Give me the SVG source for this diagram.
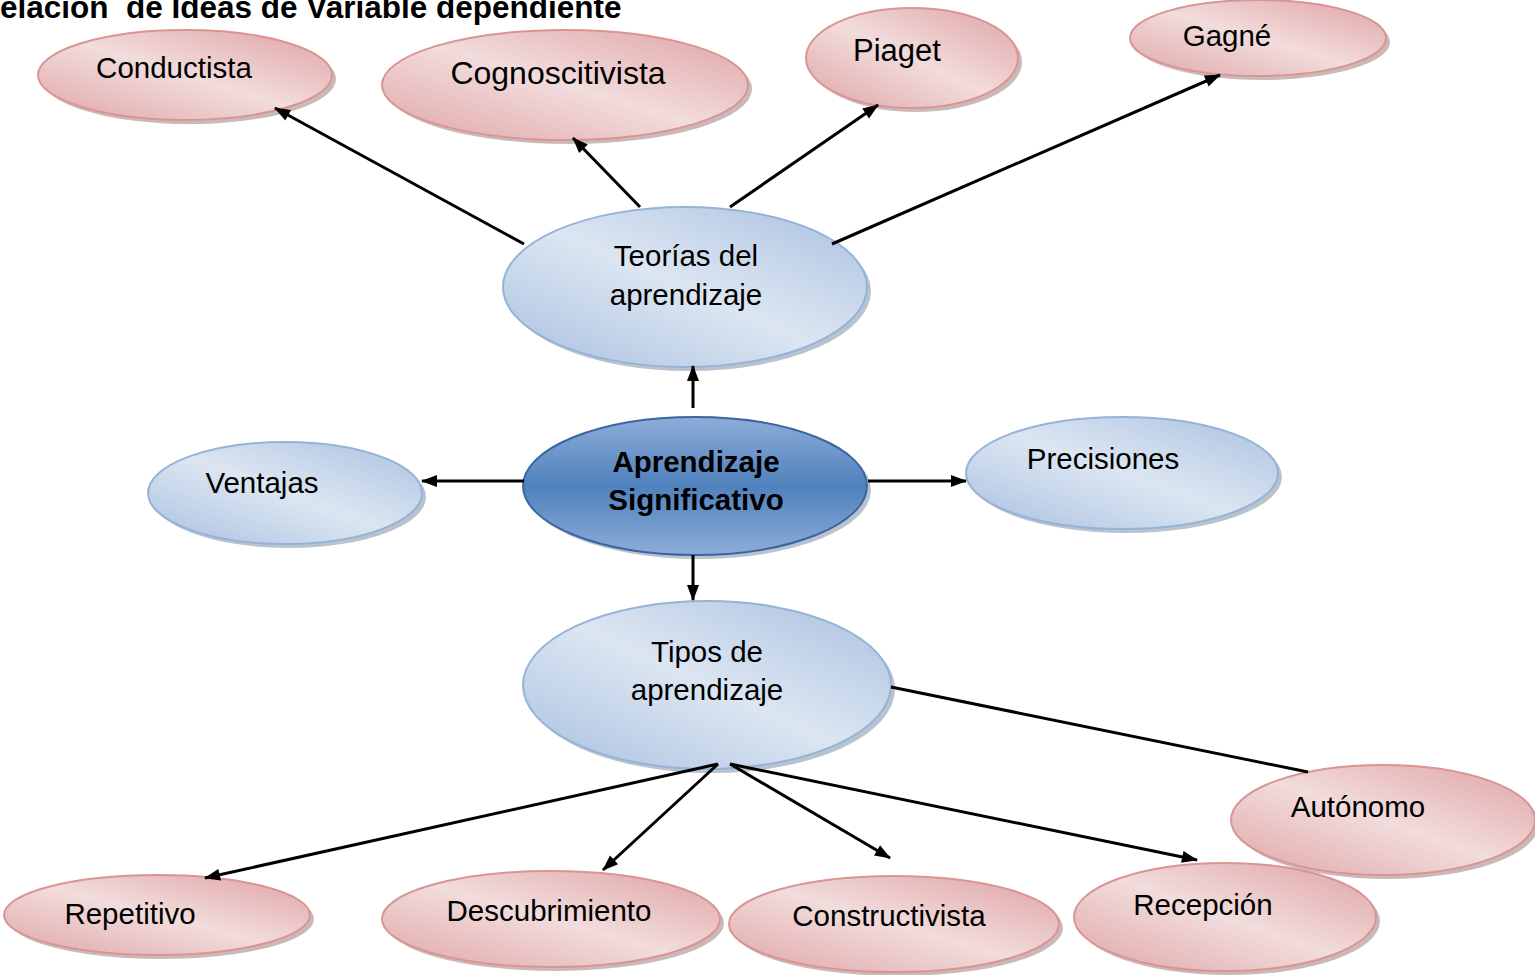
<svg xmlns="http://www.w3.org/2000/svg" width="1535" height="975" viewBox="0 0 1535 975">
<defs>
<linearGradient id="gp" x1="0" y1="1" x2="1" y2="0">
<stop offset="0" stop-color="#e0a5a6"/>
<stop offset="0.5" stop-color="#f2dcdc"/>
<stop offset="1" stop-color="#dfa1a3"/>
</linearGradient>
<linearGradient id="gb" x1="0" y1="1" x2="1" y2="0">
<stop offset="0" stop-color="#a9c0e0"/>
<stop offset="0.5" stop-color="#dce6f2"/>
<stop offset="1" stop-color="#a9c0e0"/>
</linearGradient>
<linearGradient id="gc" x1="0" y1="0" x2="0" y2="1">
<stop offset="0" stop-color="#8eadd8"/>
<stop offset="0.5" stop-color="#4f81bd"/>
<stop offset="1" stop-color="#8eadd8"/>
</linearGradient>
<marker id="ah" viewBox="0 0 16 12" refX="15" refY="6" markerWidth="16" markerHeight="12" markerUnits="userSpaceOnUse" orient="auto" overflow="visible">
<path d="M0,0 L16,6 L0,12 z" fill="#000"/>
</marker>
</defs>
<style>
.sh{fill:#a08080;opacity:0.55}
.shb{fill:#8090a8;opacity:0.55}
.p{fill:url(#gp);stroke:#d99594;stroke-width:2}
.b{fill:url(#gb);stroke:#95b3d7;stroke-width:2}
.c{fill:url(#gc);stroke:#3a66a0;stroke-width:2}
text{font-family:"Liberation Sans",Arial,sans-serif;font-size:29.5px;fill:#000;text-anchor:middle}
.bold{font-weight:bold}
.conn line{stroke:#000;stroke-width:3;marker-end:url(#ah)}
.conn line.plain{marker-end:none}
</style>
<rect width="1535" height="975" fill="#fff"/>
<text x="0" y="18" class="bold" style="text-anchor:start;font-size:31.5px" xml:space="preserve">elación  de Ideas de Variable dependiente</text>

<g id="n-conductista"><ellipse class="sh" cx="189" cy="79" rx="147" ry="45"/><ellipse class="p" cx="185" cy="75" rx="147" ry="45"/><text x="174" y="78">Conductista</text></g>
<g id="n-cognoscitivista"><ellipse class="sh" cx="569" cy="89" rx="183" ry="55"/><ellipse class="p" cx="565" cy="85" rx="183" ry="55"/><text x="558" y="84" style="font-size:32px">Cognoscitivista</text></g>
<g id="n-piaget"><ellipse class="sh" cx="916" cy="62" rx="106" ry="50"/><ellipse class="p" cx="912" cy="58" rx="106" ry="50"/><text x="897" y="61" style="font-size:31px">Piaget</text></g>
<g id="n-gagne"><ellipse class="sh" cx="1262" cy="42" rx="128" ry="38"/><ellipse class="p" cx="1258" cy="38" rx="128" ry="38"/><text x="1227" y="46">Gagné</text></g>
<g id="n-teorias"><ellipse class="shb" cx="689" cy="291" rx="182" ry="80"/><ellipse class="b" cx="685" cy="287" rx="182" ry="80"/><text x="686" y="266">Teorías del</text><text x="686" y="305">aprendizaje</text></g>
<g id="n-aprendizaje"><ellipse class="shb" cx="699" cy="490" rx="172" ry="69"/><ellipse class="c" cx="695" cy="486" rx="172" ry="69"/><text x="696" y="472" class="bold">Aprendizaje</text><text x="696" y="510" class="bold">Significativo</text></g>
<g id="n-ventajas"><ellipse class="shb" cx="289" cy="497" rx="137" ry="51"/><ellipse class="b" cx="285" cy="493" rx="137" ry="51"/><text x="262" y="493">Ventajas</text></g>
<g id="n-precisiones"><ellipse class="shb" cx="1126" cy="477" rx="156" ry="56"/><ellipse class="b" cx="1122" cy="473" rx="156" ry="56"/><text x="1103" y="469">Precisiones</text></g>
<g id="n-tipos"><ellipse class="shb" cx="711" cy="689" rx="184" ry="84"/><ellipse class="b" cx="707" cy="685" rx="184" ry="84"/><text x="707" y="662">Tipos de</text><text x="707" y="700">aprendizaje</text></g>
<g id="n-autonomo"><ellipse class="sh" cx="1387" cy="824" rx="152" ry="55"/><ellipse class="p" cx="1383" cy="820" rx="152" ry="55"/><text x="1358" y="817">Autónomo</text></g>
<g id="n-repetitivo"><ellipse class="sh" cx="161" cy="919" rx="153" ry="40"/><ellipse class="p" cx="157" cy="915" rx="153" ry="40"/><text x="130" y="924">Repetitivo</text></g>
<g id="n-descubrimiento"><ellipse class="sh" cx="555" cy="923" rx="169" ry="48"/><ellipse class="p" cx="551" cy="919" rx="169" ry="48"/><text x="549" y="921">Descubrimiento</text></g>
<g id="n-constructivista"><ellipse class="sh" cx="898" cy="928" rx="165" ry="48"/><ellipse class="p" cx="894" cy="924" rx="165" ry="48"/><text x="889" y="926">Constructivista</text></g>
<g id="n-recepcion"><ellipse class="sh" cx="1229" cy="921" rx="151" ry="54"/><ellipse class="p" cx="1225" cy="917" rx="151" ry="54"/><text x="1203" y="915">Recepción</text></g>

<g id="connectors" class="conn">
<line x1="524" y1="244" x2="275" y2="108"/>
<line x1="640" y1="207" x2="573" y2="138"/>
<line x1="730" y1="207" x2="878" y2="105"/>
<line x1="832" y1="244" x2="1220" y2="75"/>
<line x1="693" y1="408" x2="693" y2="366"/>
<line x1="524" y1="481" x2="422" y2="481"/>
<line x1="868" y1="481" x2="966" y2="481"/>
<line x1="693" y1="555" x2="693" y2="600"/>
<line class="plain" x1="891" y1="687" x2="1308" y2="772"/>
<line x1="718" y1="764" x2="205" y2="878"/>
<line x1="718" y1="764" x2="603" y2="870"/>
<line x1="730" y1="764" x2="890" y2="858"/>
<line x1="730" y1="764" x2="1197" y2="860"/>
</g>
</svg>
